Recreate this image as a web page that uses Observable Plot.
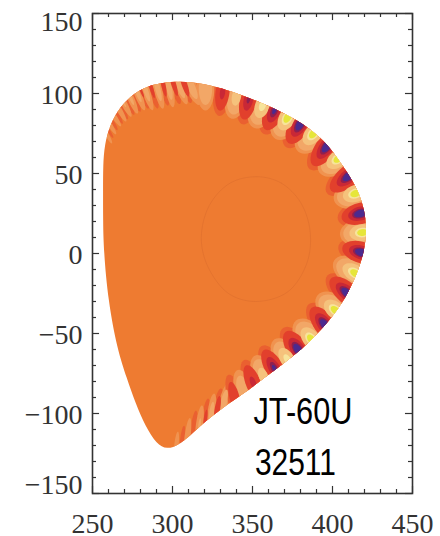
<!DOCTYPE html>
<html><head><meta charset="utf-8">
<style>html,body{margin:0;padding:0;background:#fff}svg{display:block}</style>
<script src="https://cdn.jsdelivr.net/npm/d3@7"></script>
<script src="https://cdn.jsdelivr.net/npm/@observablehq/plot@0.6"></script>
</head><body><div id="chart"></div>
<script>
const xMajor = [250,300,350,400,450];
const yMajor = [150,100,50,0,-50,-100,-150];
const xMinor = d3.range(250,451,10).filter(d=>d%50);
const yMinor = d3.range(-150,151,10).filter(d=>d%50);
const outline = [[256.6,39.4],[256.6,55],[257.5,68],[261,81],[267.5,92],[275.6,100],[284,104.5],[293.75,106.8],[305,107.6],[317.5,106.5],[328,104],[341,100],[355,94.5],[370.6,87.5],[385,79],[397,68.5],[407,54],[414.5,42.5],[419.5,30],[421.5,15.6],[420,1.9],[415.6,-12.5],[408.1,-28.1],[399,-41],[386.25,-54.9],[375,-64.5],[363.1,-73.6],[350.6,-83],[339.4,-91],[330,-97.5],[321,-104.5],[311.3,-113.5],[303.8,-119.8],[296.5,-122.5],[290,-119],[283.1,-108],[276.9,-93.75],[271.5,-78],[265.5,-60],[259.75,-29.4],[257,1.9],[256.6,20.6]];
const innerContour = [[353,48],[368,44],[380,32],[386,14],[384,-6],[372,-24],[352,-30],[335,-25],[322,-8],[318,10],[323,30],[336,44]];
// [peak R, peak z, inward R, inward z, half width, amplitude]
const hotPeaks = [[418.75,13.1,403.9,11.6,9.5,1],[414.4,37.5,400.3,32.8,9.5,1],[403.75,59.4,391.25,50,9.5,1],[388.1,75,378,63.2,9.5,1],[371.9,85,364,70.9,9.5,1],[356.25,92.5,350.8,77.6,9,.95],[340,98.1,336.9,83.3,7.5,.82],[320.6,103.1,320.6,88.3,6,.68],[311.25,105,317.5,91.7,4,.58],[414.4,-12.5,400.3,-3.9,9.5,1],[401.9,-35.6,390.1,-25.5,9.5,1],[386.9,-53.75,376.7,-41.25,9.5,1],[371.9,-66.25,363.3,-52.9,8.5,.95],[356.9,-76.9,351.4,-62.8,7.5,.82],[344.4,-85.6,340.5,-71.6,6,.62]];
const coldPeaks = [[418.1,.6,403,5,8.5,1],[417.5,25,402.6,21.1,8.5,1],[410.6,48.75,395.8,37,8.5,1],[396.9,67.5,385.2,51.9,8.5,1],[380,81.25,370.6,65.6,8.5,1],[363.75,89.4,356.7,73.8,8,.95],[347.5,96.25,343.6,79.8,7,.9],[331.25,100.6,329,85,6,.8],[409.4,-25,396.1,-13.2,8.5,1],[395.6,-45,384.7,-30.9,8.5,1],[378.75,-60.6,368.6,-45.8,8.5,1],[363.75,-71.9,355.2,-57,7.5,.95],[350.6,-81.25,344.4,-65.6,6.5,.8],[338.75,-90,334.8,-74.4,5,.62]];
const hotStripes = [[303.75,106.25,309.4,92,3.2,.6],[297.5,105.6,300.6,90,3,.56],[290.6,103.75,294.4,89,2.9,.52],[283.1,102.5,288.1,88,2.8,.48],[278.1,100.6,283.1,88,2.6,.45],[273.75,97.5,278.75,86,2.4,.42],[269.4,94.4,275,84,2.2,.38],[266.25,90.6,271.9,81,2,.34],[263.1,86.25,268.75,78,1.9,.3],[261.25,80,265.6,73,1.7,.26],[259.4,73.75,263.1,67,1.5,.22],[331.9,-93.75,335,-80,3.2,.58],[324.4,-100,326.25,-86,2.9,.48],[316.9,-106.9,318.75,-93,2.6,.38],[309.4,-114.4,311.25,-100,2.3,.28],[302.5,-119.4,303.75,-108,1.9,.2]];
const coldStripes = [[307.5,105.6,311.9,93,3,.58],[300.6,106.25,305,92,2.8,.54],[294.4,105,297.5,91,2.7,.5],[286.9,103.1,291.25,89,2.6,.46],[280.6,101.25,285.6,89,2.4,.42],[275.6,98.75,280.6,87,2.2,.38],[271.25,95.6,276.9,85,2.1,.34],[267.5,92.5,273.1,82,1.9,.3],[264.4,88.75,270,79,1.8,.26],[261.9,83.1,266.9,75,1.6,.22],[260,76.9,264.4,70,1.4,.18],[328.1,-96.9,330.6,-83,3,.56],[320.6,-103.75,322.5,-89,2.7,.46],[313.1,-110.6,315,-96,2.4,.36],[306.25,-116.9,307.5,-105,2,.25]];
const hotLevels = [.1,.35,.7,.9,.95];
const coldLevels = [.1,.38,.74,.88,.93];
const hotColors = ["#F09350","#F2A767","#F5C27C","#F7E49B","#E6E63A"];
const coldColors = ["#EA6030","#E2402C","#C92836","#8E2050","#4B2A8F"];
const labels = ["JT-60U","32511"];
const labelWidths = [99,81];

const rings = [];
let id = 0;
function addFeatures(list, levels, prefix){
  for (const [R,z,iR,iz,hw,amp] of list){
    const ax=iR-R, ay=iz-z, L=Math.hypot(ax,ay), nx=-ay/L, ny=ax/L;
    levels.forEach((lev,k)=>{
      if (amp<=lev) return;
      const s=Math.sqrt(1-lev/amp); id++;
      for (let a=0;a<40;a++){
        const t=a/40*2*Math.PI, c=Math.cos(t)*s, d=Math.sin(t)*s*hw;
        rings.push({R:R+ax*c+nx*d, z:z+ay*c+ny*d, id, lev, band:prefix+k});
      }
    });
  }
}
addFeatures(coldStripes,coldLevels,"c");
addFeatures(hotStripes,hotLevels,"h");
addFeatures(coldPeaks,coldLevels,"c");
addFeatures(hotPeaks,hotLevels,"h");
rings.sort((a,b)=>d3.ascending(a.lev,b.lev)||a.id-b.id);

const serif = {fontFamily:"Liberation Serif",fontSize:28,fill:"#333"};
const fmt = d=>d<0?"\u2212"+(-d):String(d);
const yLab = (vals,dy)=>Plot.text(vals,{x:()=>250,y:d=>d,text:fmt,textAnchor:"end",dx:-10,dy,...serif,style:{letterSpacing:"3px"}});
const tickCol="#333";
const tick = {stroke:tickCol,strokeWidth:1.2};
const sans = {textAnchor:"start",fontFamily:"Liberation Sans",fontSize:37,fill:"#000",className:"label"};

const plot = Plot.plot({
  width:440,height:536,marginLeft:92,marginRight:28,marginTop:13,marginBottom:43,
  style:{background:"#fff"},
  x:{domain:[250,450],axis:null},
  y:{domain:[-150,150],axis:null},
  color:{type:"ordinal",domain:["h0","h1","h2","h3","h4","c0","c1","c2","c3","c4"],range:[...hotColors,...coldColors]},
  marks:[
    Plot.line(outline,{x:d=>d[0],y:d=>d[1],curve:"basis-closed",fill:"#EE7B31",stroke:"none",className:"outline"}),
    Plot.line(rings,{x:"R",y:"z",z:"id",fill:"band",stroke:"none",curve:"linear-closed",className:"blobs"}),
    Plot.line(innerContour,{x:d=>d[0],y:d=>d[1],curve:"catmull-rom-closed",stroke:"#E0702E",strokeWidth:.7}),
    Plot.ruleX(xMajor,{x:d=>d,y1:()=>-150,y2:()=>-145.6,...tick}),
    Plot.ruleX(xMinor,{x:d=>d,y1:()=>-150,y2:()=>-147.5,...tick}),
    Plot.ruleX(xMajor,{x:d=>d,y1:()=>150,y2:()=>145.6,...tick}),
    Plot.ruleX(xMinor,{x:d=>d,y1:()=>150,y2:()=>147.5,...tick}),
    Plot.ruleY(yMajor,{y:d=>d,x1:()=>250,x2:()=>254.4,...tick}),
    Plot.ruleY(yMinor,{y:d=>d,x1:()=>250,x2:()=>252.5,...tick}),
    Plot.ruleY(yMajor,{y:d=>d,x1:()=>450,x2:()=>445.6,...tick}),
    Plot.ruleY(yMinor,{y:d=>d,x1:()=>450,x2:()=>447.5,...tick}),
    Plot.frame({stroke:tickCol,strokeWidth:1.6}),
    yLab(yMajor.filter(d=>Math.abs(d)<150),2),
    yLab([150],9),
    yLab([-150],-8),
    Plot.text(xMajor,{x:d=>d,y:()=>-150,text:fmt,dy:31,textAnchor:"middle",...serif,style:{letterSpacing:"3px"}}),
    Plot.text([labels[0]],{x:()=>350.6,y:()=>-99.4,text:d=>d,...sans}),
    Plot.text([labels[1]],{x:()=>351.5,y:()=>-131.25,text:d=>d,...sans})
  ]
});
document.getElementById("chart").appendChild(plot);
// clip the contour rings to the plasma outline
const src = plot.querySelector(".outline path");
const defs = document.createElementNS("http://www.w3.org/2000/svg","clipPath");
defs.setAttribute("id","plasma");
const p = document.createElementNS("http://www.w3.org/2000/svg","path");
p.setAttribute("d",src.getAttribute("d"));
defs.appendChild(p);
plot.insertBefore(defs,plot.firstChild);
plot.querySelector(".blobs").setAttribute("clip-path","url(#plasma)");
// condensed label lettering
plot.querySelectorAll(".label text").forEach(t=>{
  t.setAttribute("textLength",labelWidths[labels.indexOf(t.textContent)]);
  t.setAttribute("lengthAdjust","spacingAndGlyphs");
});
</script></body></html>
